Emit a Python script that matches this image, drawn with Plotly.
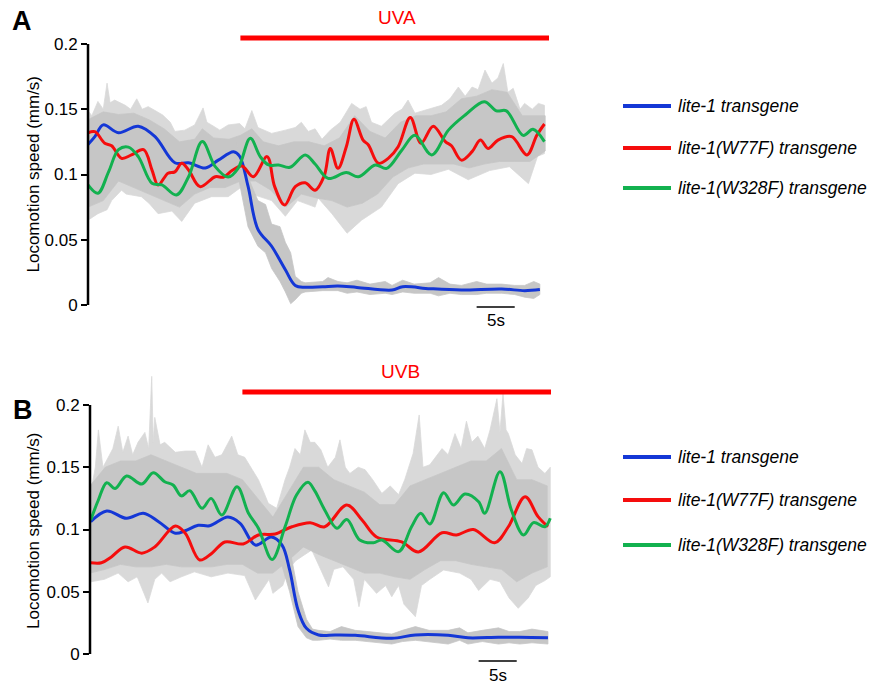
import plotly.graph_objects as go

W, H = 870, 684

# ---------------- Panel A (UVA) ----------------
a_blue_t = [0.0, 0.9, 2.0, 4.0, 6.6, 8.8, 11.4, 13.2, 15.4, 17.1, 19.1, 19.9, 21.0, 22.3, 24.1, 25.9, 27.2, 28.5,
            30.8, 32.8, 35.3, 39.9, 41.3, 44.9, 49.0, 54.3, 57.3, 59.3]
a_blue_v = [0.123, 0.129, 0.138, 0.132, 0.137, 0.129, 0.109, 0.109, 0.105, 0.111, 0.1175, 0.114, 0.091, 0.058,
            0.045, 0.027, 0.015, 0.0136, 0.014, 0.0145, 0.0135, 0.0115, 0.014, 0.0125, 0.0115, 0.0123, 0.011, 0.0118]

a_red_t = [0.0, 0.9, 2.2, 3.1, 4.4, 5.7, 7.3, 8.4, 9.2, 10.5, 11.4, 12.3, 13.2, 14.7, 16.7, 17.8, 18.9, 20.2,
           21.7, 23.5, 24.5, 25.8, 27.2, 28.5, 29.8, 31.0, 31.8, 32.8, 33.9, 34.9, 36.1, 36.8, 38.1, 39.4,
           40.7, 42.3, 43.7, 45.3, 46.9, 47.7, 49.0, 50.4, 51.5, 52.5, 53.8, 55.6, 57.6, 58.9, 59.9]
a_red_v = [0.132, 0.1328, 0.124, 0.122, 0.1124, 0.115, 0.119, 0.1034, 0.092, 0.101, 0.102, 0.1086, 0.1034,
           0.0907, 0.0983, 0.098, 0.103, 0.1065, 0.0983, 0.1137, 0.0907, 0.0766, 0.0907, 0.0937, 0.088, 0.099,
           0.12, 0.1047, 0.1213, 0.1423, 0.1264, 0.1226, 0.1086, 0.1124, 0.1213, 0.1437, 0.124, 0.137, 0.1252,
           0.122, 0.111, 0.1175, 0.1264, 0.12, 0.1264, 0.129, 0.115, 0.130, 0.1387]

a_green_t = [0.0, 1.3, 2.7, 4.0, 5.3, 6.6, 8.4, 9.7, 11.6, 13.2, 15.0, 16.7, 18.4, 19.7, 21.3, 22.6, 23.7, 25.0,
             26.5, 28.5, 29.8, 31.5, 33.9, 35.5, 37.7, 39.2, 41.2, 42.9, 45.1, 47.3, 49.5, 52.0, 53.6, 54.9,
             57.1, 58.4, 59.9]
a_green_v = [0.092, 0.0856, 0.102, 0.119, 0.121, 0.1137, 0.0933, 0.092, 0.0843, 0.0983, 0.1252, 0.106, 0.098,
             0.1047, 0.1277, 0.1137, 0.1073, 0.1073, 0.1055, 0.115, 0.108, 0.097, 0.1015, 0.0983, 0.1073,
             0.1047, 0.1188, 0.130, 0.115, 0.134, 0.1456, 0.1558, 0.1488, 0.1488, 0.130, 0.1346, 0.1252]

# raw-trace spread (grey): spike tips (outer) and dense core (inner)
a_grey_hi_t = [0.0, 0.5, 1.3, 2.0, 2.5, 2.9, 3.5, 4.9, 5.6, 6.4, 7.1, 7.9, 8.8, 9.8, 10.8, 11.4, 12.7, 14.0,
               15.1, 15.6, 16.2, 17.3, 18.4, 19.9, 20.6, 21.5, 22.3, 23.2, 24.1, 25.9, 27.2, 28.0, 28.9, 29.8,
               30.7, 31.8, 33.1, 34.6, 35.7, 36.5, 37.2, 38.5, 40.3, 41.2, 42.0, 42.9, 44.6, 46.4, 47.5, 48.6,
               49.5, 50.4, 51.2, 52.1, 53.0, 53.8, 54.5, 55.1, 55.8, 56.7, 57.3, 58.3, 59.1, 59.9]
a_grey_hi_v = [0.149, 0.145, 0.156, 0.150, 0.170, 0.155, 0.157, 0.153, 0.150, 0.158, 0.150, 0.152, 0.149,
               0.1456, 0.140, 0.133, 0.134, 0.138, 0.151, 0.140, 0.138, 0.134, 0.138, 0.139, 0.135, 0.149,
               0.136, 0.134, 0.1315, 0.134, 0.136, 0.140, 0.133, 0.135, 0.127, 0.134, 0.140, 0.1545, 0.150,
               0.152, 0.140, 0.137, 0.147, 0.150, 0.157, 0.147, 0.150, 0.153, 0.158, 0.167, 0.160, 0.167,
               0.165, 0.180, 0.170, 0.174, 0.185, 0.163, 0.166, 0.150, 0.1545, 0.150, 0.1545, 0.153]
a_grey_lo_t = [0.0, 1.3, 2.5, 3.1, 4.4, 5.0, 7.0, 8.0, 9.2, 11.0, 12.3, 14.0, 16.2, 18.4, 20.2, 21.5, 24.1,
               25.9, 27.5, 29.8, 30.2, 32.0, 34.0, 35.9, 38.5, 40.7, 42.9, 45.0, 47.3, 49.9, 52.7, 55.3, 57.8,
               59.0, 59.9]
a_grey_lo_v = [0.065, 0.070, 0.073, 0.080, 0.088, 0.085, 0.083, 0.078, 0.070, 0.072, 0.064, 0.078, 0.083,
               0.083, 0.0907, 0.085, 0.080, 0.068, 0.080, 0.075, 0.082, 0.070, 0.055, 0.065, 0.075, 0.093,
               0.101, 0.100, 0.104, 0.096, 0.103, 0.106, 0.093, 0.114, 0.116]
a_core_t = [0, 2, 4, 6, 8, 10, 12, 14, 15, 16.5, 18.5, 20, 21.5, 23, 25, 27, 29, 31, 33, 35, 37, 39, 41, 43, 45,
            47, 49, 51, 53, 55, 57, 59, 60]
a_core_hi = [0.142, 0.148, 0.146, 0.147, 0.142, 0.135, 0.125, 0.127, 0.135, 0.128, 0.127, 0.130, 0.135, 0.125,
             0.122, 0.125, 0.125, 0.122, 0.128, 0.145, 0.133, 0.128, 0.140, 0.145, 0.145, 0.148, 0.158, 0.160,
             0.165, 0.163, 0.145, 0.145, 0.145]
a_core_lo_t = [0, 2, 4, 6, 8, 10, 12, 14, 16, 18, 20, 22, 24, 26, 28, 30, 32, 34, 36, 38, 40, 42, 44, 46, 48,
               50, 52, 54, 56, 58, 60]
a_core_lo = [0.075, 0.080, 0.095, 0.090, 0.085, 0.080, 0.075, 0.085, 0.090, 0.090, 0.095, 0.095, 0.088, 0.075,
             0.085, 0.082, 0.080, 0.075, 0.078, 0.085, 0.098, 0.105, 0.108, 0.108, 0.108, 0.105, 0.108, 0.110,
             0.110, 0.110, 0.118]

a_bgrey_t = [19.5, 21.0, 22.3, 23.3, 24.1, 25.2, 25.9, 26.6, 27.2, 28.0, 28.5, 30.8, 31.5, 32.8, 34.0, 35.3,
             37.0, 39.0, 39.9, 41.3, 42.8, 44.9, 46.0, 47.5, 49.0, 51.0, 52.3, 54.3, 56.0, 57.3, 58.5, 59.3]
a_bgrey_hi = [0.125, 0.098, 0.080, 0.077, 0.062, 0.060, 0.048, 0.040, 0.022, 0.018, 0.017, 0.018, 0.021,
              0.018, 0.017, 0.019, 0.016, 0.018, 0.015, 0.019, 0.016, 0.017, 0.021, 0.016, 0.015, 0.018,
              0.016, 0.016, 0.015, 0.015, 0.018, 0.016]
a_bgrey_lo = [0.105, 0.060, 0.045, 0.040, 0.028, 0.018, 0.010, 0.001, 0.004, 0.009, 0.010, 0.011, 0.011,
              0.011, 0.009, 0.010, 0.008, 0.009, 0.008, 0.010, 0.009, 0.009, 0.007, 0.009, 0.008, 0.008,
              0.009, 0.009, 0.008, 0.006, 0.005, 0.008]

# ---------------- Panel B (UVB) ----------------
b_blue_t = [0.1, 2.2, 4.8, 7.0, 9.0, 11.2, 12.5, 14.2, 15.7, 18.1, 19.7, 21.7, 23.8, 25.2, 26.2, 27.3, 28.4,
            30.0, 32.2, 34.8, 39.6, 42.7, 47.0, 49.6, 53.6, 56.4, 60.1]
b_blue_v = [0.1063, 0.1149, 0.109, 0.113, 0.1063, 0.097, 0.099, 0.1034, 0.103, 0.110, 0.105, 0.0875, 0.094,
            0.0875, 0.0675, 0.0353, 0.0206, 0.0153, 0.0153, 0.0150, 0.0126, 0.0153, 0.0150, 0.013, 0.0135,
            0.0135, 0.0131]

b_red_t = [0.1, 1.5, 2.8, 4.6, 6.8, 8.5, 11.2, 12.5, 14.4, 16.0, 17.7, 20.1, 22.1, 24.3, 26.5, 28.9, 30.8,
           33.7, 35.7, 37.6, 40.9, 43.1, 46.2, 48.1, 50.3, 53.1, 54.9, 57.1, 58.8, 60.1]
b_red_v = [0.0733, 0.0733, 0.078, 0.086, 0.081, 0.086, 0.1028, 0.097, 0.0755, 0.081, 0.090, 0.0884, 0.0956,
           0.0964, 0.1022, 0.1055, 0.1022, 0.1197, 0.1076, 0.094, 0.090, 0.082, 0.0974, 0.0956, 0.100, 0.0894,
           0.1022, 0.1263, 0.1103, 0.1022]

b_green_t = [0.1, 1.1, 2.2, 3.3, 4.8, 6.8, 8.3, 9.8, 10.9, 12.0, 13.1, 14.7, 15.9, 17.3, 19.3, 20.8, 22.1,
             23.9, 25.6, 27.1, 28.6, 29.5, 30.8, 32.4, 33.7, 35.4, 37.2, 38.3, 40.5, 42.2, 43.4, 44.6, 46.4,
             47.7, 49.2, 51.0, 51.8, 53.8, 55.3, 56.9, 58.2, 59.7, 60.4]
b_green_v = [0.1076, 0.1237, 0.1376, 0.133, 0.143, 0.1365, 0.1456, 0.1384, 0.1357, 0.127, 0.1312, 0.117,
             0.125, 0.1116, 0.1344, 0.113, 0.101, 0.076, 0.1022, 0.1277, 0.138, 0.131, 0.1157, 0.101, 0.108,
             0.0916, 0.0894, 0.0916, 0.0822, 0.1022, 0.113, 0.1044, 0.1296, 0.1197, 0.1285, 0.1223, 0.113,
             0.1464, 0.1157, 0.0956, 0.1055, 0.1022, 0.109]

b_grey_hi_t = [0.1, 0.7, 1.1, 1.7, 2.4, 3.0, 3.7, 4.3, 5.0, 5.6, 6.3, 7.2, 7.7, 8.1, 8.3, 8.5, 9.2, 9.8, 11.2,
               12.5, 13.8, 14.7, 15.5, 16.4, 17.3, 18.6, 19.4, 20.3, 21.3, 22.1, 22.8, 23.4, 24.5, 25.1, 25.6,
               26.2, 26.9, 27.6, 28.2, 28.9, 29.5, 30.3, 31.2, 32.2, 32.8, 33.5, 34.1, 35.2, 36.1, 37.1, 38.3,
               39.4, 40.5, 41.3, 42.4, 43.2, 43.7, 44.6, 46.2, 47.0, 47.9, 48.7, 49.4, 50.1, 50.9, 51.8, 52.5,
               53.4, 53.8, 54.2, 54.6, 54.9, 55.8, 56.7, 57.3, 58.0, 58.8, 59.7, 60.4]
b_grey_hi_v = [0.130, 0.150, 0.180, 0.150, 0.158, 0.165, 0.183, 0.162, 0.175, 0.160, 0.170, 0.178, 0.165,
               0.223, 0.170, 0.190, 0.168, 0.170, 0.162, 0.163, 0.163, 0.150, 0.168, 0.158, 0.160, 0.175,
               0.160, 0.158, 0.148, 0.140, 0.130, 0.121, 0.117, 0.130, 0.140, 0.150, 0.165, 0.160, 0.180,
               0.170, 0.170, 0.164, 0.150, 0.158, 0.172, 0.150, 0.145, 0.150, 0.148, 0.140, 0.129, 0.135,
               0.128, 0.140, 0.161, 0.192, 0.150, 0.152, 0.165, 0.160, 0.177, 0.165, 0.187, 0.170, 0.175,
               0.165, 0.180, 0.205, 0.178, 0.209, 0.180, 0.177, 0.160, 0.153, 0.165, 0.164, 0.150, 0.145,
               0.150]
b_grey_lo_t = [0.1, 1.9, 3.7, 5.0, 6.2, 7.6, 8.5, 9.4, 10.5, 12.0, 13.7, 15.9, 18.1, 20.3, 21.7, 23.5, 24.0,
               25.3, 26.0, 27.0, 29.1, 30.3, 31.3, 32.0, 33.2, 34.6, 35.3, 36.0, 37.6, 38.8, 39.6, 40.5, 41.2,
               42.7, 43.5, 44.6, 46.4, 48.5, 50.0, 51.0, 52.5, 53.8, 55.0, 56.2, 57.5, 58.5, 59.7, 60.4]
b_grey_lo_v = [0.058, 0.060, 0.065, 0.058, 0.062, 0.041, 0.060, 0.065, 0.058, 0.062, 0.066, 0.062, 0.065,
               0.063, 0.0434, 0.060, 0.0487, 0.055, 0.0675, 0.075, 0.0835, 0.0675, 0.054, 0.068, 0.070, 0.060,
               0.038, 0.060, 0.0487, 0.055, 0.046, 0.055, 0.040, 0.030, 0.055, 0.060, 0.0675, 0.065, 0.060,
               0.051, 0.060, 0.058, 0.045, 0.0367, 0.045, 0.055, 0.059, 0.062]
b_core_t = [0, 2, 4, 6, 8, 10, 12, 14, 16, 18, 20, 22, 24, 26, 28, 30, 32, 34, 36, 38, 40, 42, 44, 46, 48, 50,
            52, 54, 56, 58, 60]
b_core_hi = [0.135, 0.150, 0.155, 0.155, 0.160, 0.155, 0.150, 0.145, 0.145, 0.145, 0.140, 0.125, 0.110, 0.130,
             0.150, 0.150, 0.140, 0.135, 0.130, 0.120, 0.120, 0.135, 0.140, 0.145, 0.150, 0.155, 0.155, 0.165,
             0.140, 0.140, 0.135]
b_core_lo = [0.065, 0.068, 0.072, 0.070, 0.070, 0.072, 0.070, 0.070, 0.070, 0.072, 0.072, 0.065, 0.065, 0.075,
             0.086, 0.080, 0.075, 0.070, 0.065, 0.065, 0.062, 0.060, 0.068, 0.075, 0.075, 0.072, 0.070, 0.068,
             0.058, 0.065, 0.070]

b_bgrey_t = [19.5, 25.0, 26.2, 27.3, 28.4, 29.2, 30.0, 31.5, 33.0, 34.8, 36.5, 38.0, 39.6, 41.0, 42.7, 44.5,
             47.0, 48.5, 49.6, 51.5, 53.6, 55.0, 56.4, 58.0, 60.1]
b_bgrey_hi = [0.120, 0.095, 0.085, 0.050, 0.028, 0.020, 0.019, 0.018, 0.022, 0.019, 0.018, 0.017, 0.016,
              0.019, 0.022, 0.019, 0.019, 0.021, 0.017, 0.019, 0.021, 0.018, 0.018, 0.020, 0.018]
b_bgrey_lo = [0.090, 0.075, 0.050, 0.022, 0.013, 0.011, 0.011, 0.012, 0.011, 0.011, 0.010, 0.009, 0.008,
              0.010, 0.011, 0.010, 0.008, 0.011, 0.008, 0.010, 0.008, 0.009, 0.008, 0.009, 0.008]

series_names = ["lite-1 transgene", "lite-1(W77F) transgene", "lite-1(W328F) transgene"]
series_colors = ["#1437d6", "#f50d0d", "#12b14f"]
y_ticks = [0, 0.05, 0.1, 0.15, 0.2]
y_ticktext = ["0", "0.05", "0.1", "0.15", "0.2"]
stim_labels = ["UVA", "UVB"]
stim_on, stim_off = 20.0, 60.5
scale_bar = (51.0, 56.0)
scale_label = "5s"

GREY_OUT = "#d9d9d9"
GREY_IN = "#c6c6c6"
FONT = "Liberation Sans, Arial, sans-serif"

fig = go.Figure()


def poly(ht, hv, lt, lv, color, xa, ya):
    fig.add_trace(go.Scatter(x=list(ht) + list(lt)[::-1], y=list(hv) + list(lv)[::-1], fill="toself",
                             fillcolor=color, line=dict(color=color, width=0.8), mode="lines",
                             hoverinfo="skip", showlegend=False, xaxis=xa, yaxis=ya))


def curve(t, v, color, xa, ya):
    fig.add_trace(go.Scatter(x=t, y=v, mode="lines", line=dict(color=color, width=3, shape="spline", smoothing=1.0),
                             hoverinfo="skip", showlegend=False, xaxis=xa, yaxis=ya))


panels = [
    dict(xa="x", ya="y",
         outer=(a_grey_hi_t, a_grey_hi_v, a_grey_lo_t, a_grey_lo_v),
         inner=(a_core_t, a_core_hi, a_core_lo_t, a_core_lo),
         bband=(a_bgrey_t, a_bgrey_hi, a_bgrey_lo),
         curves=[(a_blue_t, a_blue_v), (a_red_t, a_red_v), (a_green_t, a_green_v)]),
    dict(xa="x2", ya="y2",
         outer=(b_grey_hi_t, b_grey_hi_v, b_grey_lo_t, b_grey_lo_v),
         inner=(b_core_t, b_core_hi, b_core_t, b_core_lo),
         bband=(b_bgrey_t, b_bgrey_hi, b_bgrey_lo),
         curves=[(b_blue_t, b_blue_v), (b_red_t, b_red_v), (b_green_t, b_green_v)]),
]

for p in panels:
    poly(*p["outer"], GREY_OUT, p["xa"], p["ya"])
    poly(*p["inner"], GREY_IN, p["xa"], p["ya"])
    bt, bh, bl = p["bband"]
    poly(bt, bh, bt, bl, GREY_IN, p["xa"], p["ya"])
    for (t, v), c in zip(p["curves"], series_colors):
        curve(t, v, c, p["xa"], p["ya"])

pxs = 7.62  # pixels per second
xr = [0, 61]


def fx(px):
    return px / W


def fy(py):
    return 1 - py / H


yaxis_common = dict(showgrid=False, zeroline=False, showline=False, ticks="outside", ticklen=6, tickwidth=2,
                    tickcolor="black", tickvals=y_ticks, ticktext=y_ticktext, automargin=False,
                    tickfont=dict(family=FONT, size=17, color="black"))
xaxis_common = dict(visible=False, range=xr, automargin=False)

fig.update_layout(
    width=W, height=H, margin=dict(l=0, r=0, t=0, b=0, pad=0, autoexpand=False),
    paper_bgcolor="white", plot_bgcolor="white",
    xaxis=dict(domain=[fx(88), fx(88 + 61 * pxs)], anchor="y", **xaxis_common),
    yaxis=dict(domain=[fy(305 + 0.005 * 1305), fy(44)], range=[-0.005, 0.2], anchor="x", **yaxis_common),
    xaxis2=dict(domain=[fx(90), fx(90 + 61 * pxs)], anchor="y2", **xaxis_common),
    yaxis2=dict(domain=[fy(654 + 0.005 * 1245), fy(654 - 0.228 * 1245)], range=[-0.005, 0.228], anchor="x2",
                **yaxis_common),
    showlegend=False,
)

shapes = []
annotations = []
panel_cfg = [
    dict(letter="A", xd="x domain", xr_="x", yr="y", stim_y=38, title_y=174.5, letter_xy=(22, 21),
         stim_text_y=17, stim_text_x=397, bar_y=307, bar_text_y=320, legend_y=[106, 148, 188]),
    dict(letter="B", xd="x2 domain", xr_="x2", yr="y2", stim_y=392, title_y=531, letter_xy=(23, 410),
         stim_text_y=371, stim_text_x=400, bar_y=661, bar_text_y=675, legend_y=[457, 500, 545]),
]
for i, c in enumerate(panel_cfg):
    shapes.append(dict(type="line", xref=c["xd"], yref=c["yr"], x0=0, x1=0, y0=0, y1=0.2,
                       line=dict(color="black", width=2.5)))
    shapes.append(dict(type="line", xref=c["xr_"], yref="paper", x0=stim_on, x1=stim_off,
                       y0=fy(c["stim_y"]), y1=fy(c["stim_y"]), line=dict(color="#ff0000", width=5)))
    annotations.append(dict(text=stim_labels[i], xref="paper", yref="paper", x=fx(c["stim_text_x"]),
                            y=fy(c["stim_text_y"]), showarrow=False, xanchor="center", yanchor="middle",
                            font=dict(family=FONT, size=19, color="#ff0000")))
    shapes.append(dict(type="line", xref=c["xr_"], yref="paper", x0=scale_bar[0], x1=scale_bar[1],
                       y0=fy(c["bar_y"]), y1=fy(c["bar_y"]), line=dict(color="black", width=1.5)))
    annotations.append(dict(text=scale_label, xref=c["xr_"], yref="paper", x=(scale_bar[0] + scale_bar[1]) / 2,
                            y=fy(c["bar_text_y"]), showarrow=False, xanchor="center", yanchor="middle",
                            font=dict(family=FONT, size=17, color="black")))
    annotations.append(dict(text="Locomotion speed (mm/s)", xref="paper", yref="paper", x=fx(33),
                            y=fy(c["title_y"]), textangle=-90, showarrow=False, xanchor="center",
                            yanchor="middle", font=dict(family=FONT, size=17, color="black")))
    annotations.append(dict(text="<b>%s</b>" % c["letter"], xref="paper", yref="paper", x=fx(c["letter_xy"][0]),
                            y=fy(c["letter_xy"][1]), showarrow=False, xanchor="center", yanchor="middle",
                            font=dict(family=FONT, size=27, color="black")))
    for name, col, ly in zip(series_names, series_colors, c["legend_y"]):
        shapes.append(dict(type="line", xref="paper", yref="paper", x0=fx(623), x1=fx(671), y0=fy(ly), y1=fy(ly),
                           line=dict(color=col, width=4)))
        annotations.append(dict(text="<i>%s</i>" % name, xref="paper", yref="paper", x=fx(676), y=fy(ly),
                                showarrow=False, xanchor="left", yanchor="middle",
                                font=dict(family=FONT, size=17.5, color="black")))

fig.update_layout(shapes=shapes, annotations=annotations)

post = ("document.documentElement.style.margin='0';document.body.style.margin='0';"
        "document.documentElement.style.overflow='hidden';document.body.style.overflow='hidden';"
        "var d=document.getElementById('{plot_id}');d.style.position='fixed';d.style.left='0px';d.style.top='0px';")
fig.write_html("out.html", config={"displayModeBar": False}, post_script=post)
